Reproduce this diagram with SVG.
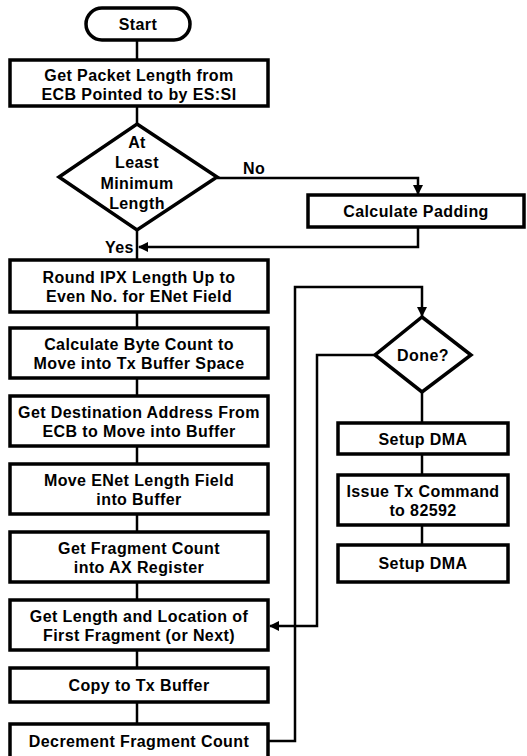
<svg xmlns="http://www.w3.org/2000/svg" width="527" height="756" viewBox="0 0 527 756">
<defs>
<marker id="ah" markerWidth="10" markerHeight="10" refX="9" refY="5" orient="auto" markerUnits="userSpaceOnUse">
<path d="M0,0 L10,5 L0,10 Z" fill="#000"/>
</marker>
<style>
.box{fill:#fff;stroke:#000;stroke-width:3.5}
.ln{fill:none;stroke:#000;stroke-width:2.5}
text{font-family:"Liberation Sans",Arial,sans-serif;font-size:16px;letter-spacing:0.4px;font-weight:bold;fill:#000;text-anchor:middle}
.lbl{text-anchor:start}
</style>
</defs>
<rect width="527" height="756" fill="#fff"/>
<g id="connectors">
<line class="ln" x1="137" y1="40" x2="137" y2="60"/>
<line class="ln" x1="137" y1="106" x2="137" y2="124"/>
<line class="ln" x1="137" y1="230" x2="137" y2="260"/>
<polyline class="ln" points="217,178 418,178 418,194" marker-end="url(#ah)"/>
<polyline class="ln" points="418,227 418,247 139,247" marker-end="url(#ah)"/>
<line class="ln" x1="137" y1="312" x2="137" y2="328"/>
<line class="ln" x1="137" y1="378" x2="137" y2="396"/>
<line class="ln" x1="137" y1="446" x2="137" y2="463"/>
<line class="ln" x1="137" y1="514" x2="137" y2="532"/>
<line class="ln" x1="137" y1="582" x2="137" y2="600"/>
<line class="ln" x1="137" y1="650" x2="137" y2="668"/>
<line class="ln" x1="137" y1="702" x2="137" y2="724"/>
<polyline class="ln" points="268,741 295,741 295,287 422,287 422,316" marker-end="url(#ah)"/>
<polyline class="ln" points="375,355 317,355 317,626 270,626" marker-end="url(#ah)"/>
<line class="ln" x1="422" y1="392" x2="422" y2="423"/>
<line class="ln" x1="422" y1="454" x2="422" y2="475"/>
<line class="ln" x1="422" y1="525" x2="422" y2="545"/>
<text class="lbl" x="243" y="174">No</text>
<text class="lbl" x="105" y="253">Yes</text>
</g>
<g id="start">
<rect class="box" x="86" y="8" width="104" height="32" rx="16"/>
<text x="138" y="30">Start</text>
</g>
<g id="getPacket">
<rect class="box" x="10" y="60" width="258" height="46"/>
<text x="139" y="81">Get Packet Length from</text>
<text x="139" y="100">ECB Pointed to by ES:SI</text>
</g>
<g id="minLength">
<polygon class="box" points="137,124 217,177 137,230 59,177"/>
<text x="137" y="148">At</text>
<text x="137" y="168">Least</text>
<text x="137" y="189">Minimum</text>
<text x="137" y="209">Length</text>
</g>
<g id="padding">
<rect class="box" x="308" y="195" width="216" height="32"/>
<text x="416" y="217">Calculate Padding</text>
</g>
<g id="roundIPX">
<rect class="box" x="10" y="260" width="258" height="52"/>
<text x="139" y="283">Round IPX Length Up to</text>
<text x="139" y="302">Even No. for ENet Field</text>
</g>
<g id="byteCount">
<rect class="box" x="10" y="328" width="258" height="50"/>
<text x="139" y="350">Calculate Byte Count to</text>
<text x="139" y="369">Move into Tx Buffer Space</text>
</g>
<g id="destAddr">
<rect class="box" x="10" y="396" width="258" height="50"/>
<text x="139" y="418">Get Destination Address From</text>
<text x="139" y="437">ECB to Move into Buffer</text>
</g>
<g id="enetLen">
<rect class="box" x="10" y="464" width="258" height="50"/>
<text x="139" y="486">Move ENet Length Field</text>
<text x="139" y="505">into Buffer</text>
</g>
<g id="fragCount">
<rect class="box" x="10" y="532" width="258" height="50"/>
<text x="139" y="554">Get Fragment Count</text>
<text x="139" y="573">into AX Register</text>
</g>
<g id="getLength">
<rect class="box" x="10" y="600" width="258" height="50"/>
<text x="139" y="622">Get Length and Location of</text>
<text x="139" y="641">First Fragment (or Next)</text>
</g>
<g id="copyTx">
<rect class="box" x="10" y="668" width="258" height="34"/>
<text x="139" y="691">Copy to Tx Buffer</text>
</g>
<g id="decrement">
<rect class="box" x="10" y="724" width="258" height="40"/>
<text x="139" y="747">Decrement Fragment Count</text>
</g>
<g id="done">
<polygon class="box" points="422,317 471,355 422,392 375,355"/>
<text x="423" y="361">Done?</text>
</g>
<g id="setupDMA1">
<rect class="box" x="338" y="423" width="170" height="31"/>
<text x="423" y="445">Setup DMA</text>
</g>
<g id="issueTx">
<rect class="box" x="338" y="475" width="170" height="50"/>
<text x="423" y="497">Issue Tx Command</text>
<text x="423" y="516">to 82592</text>
</g>
<g id="setupDMA2">
<rect class="box" x="338" y="545" width="170" height="37"/>
<text x="423" y="569">Setup DMA</text>
</g>
</svg>
